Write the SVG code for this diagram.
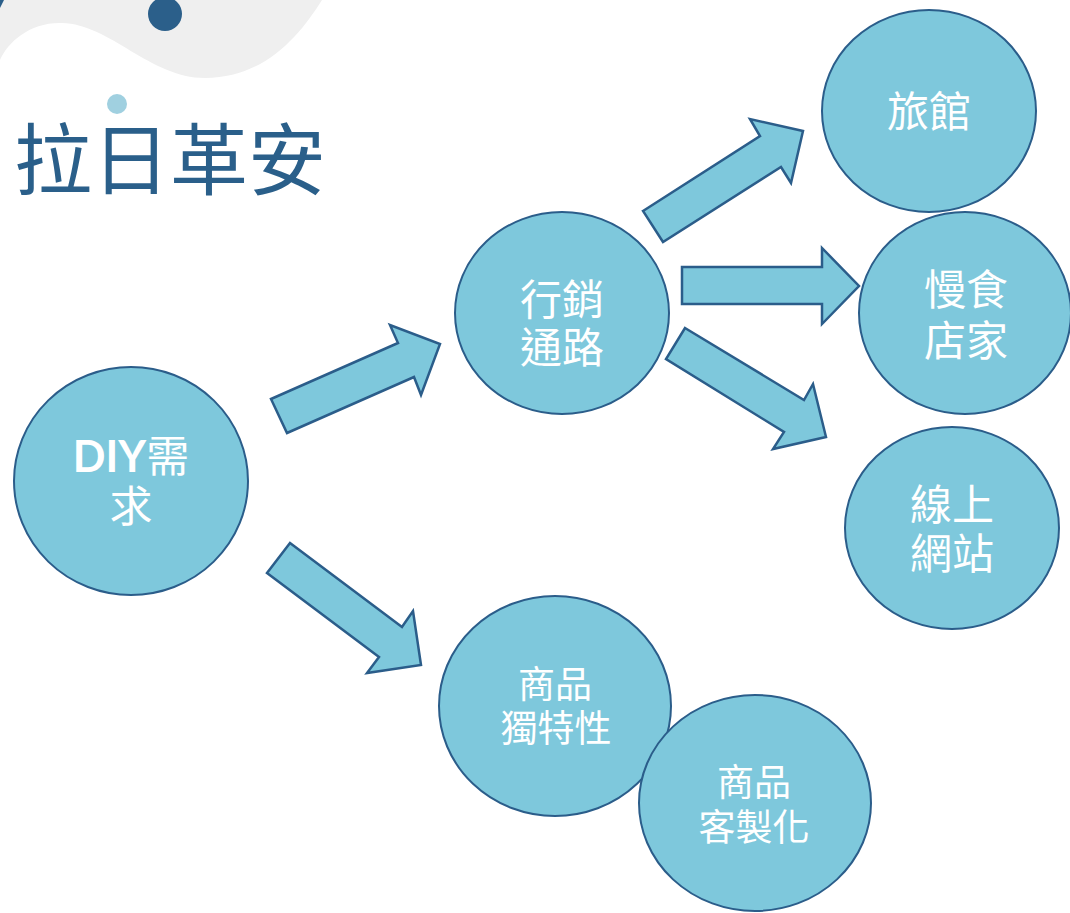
<svg xmlns="http://www.w3.org/2000/svg" width="1070" height="913" viewBox="0 0 1070 913">
<style>
.node{fill:#7ec8dc;stroke:#2b5d8a;stroke-width:2}
.arrow{fill:#7ec8dc;stroke:#2b5d8a;stroke-width:2.5;stroke-linejoin:miter}
.lbl{fill:#ffffff;font-family:"Noto Sans CJK TC","Noto Sans CJK SC",sans-serif;text-anchor:middle}
.title{fill:#2a5f8a;font-family:"Noto Sans CJK TC","Noto Sans CJK SC",sans-serif}
</style>
<rect width="1070" height="913" fill="#ffffff"/>
<g id="background">
<path d="M0,0 H322 C300,35 265,78 205,78 C150,78 110,24 62,23 C30,22 8,42 0,60 Z" fill="#efefef"/>
<path d="M0,0 H4 L0,8 Z" fill="#2b5f8a"/>
<circle cx="165" cy="14" r="17" fill="#2b5f8a"/>
<circle cx="117" cy="104" r="10" fill="#a0d0e0"/>
<text class="title" x="14" y="189" font-size="78">拉日革安</text>
</g>
<g id="connectors">
<polygon class="arrow" points="271,399 398,343 390,325 440,344 421,395 414,377 287,433"/>
<polygon class="arrow" points="643,211 760,136 750,119 803,131 791,183 781,167 663,242"/>
<polygon class="arrow" points="682,267 822,267 822,248 859,286 822,324 822,304 682,304"/>
<polygon class="arrow" points="685,328 804,400 813,384 826,437 773,449 784,432 666,359"/>
<polygon class="arrow" points="290,543 402,627 413,611 421,665 367,673 379,657 267,573"/>
</g>
<g id="node-diy">
<ellipse class="node" cx="131" cy="481" rx="117" ry="114"/>
<text class="lbl" x="131" y="472" font-size="43"><tspan font-family="Lato,'Noto Sans',sans-serif" font-weight="bold">DIY</tspan>需<tspan x="131" dy="50">求</tspan></text>
</g>
<g id="node-marketing">
<ellipse class="node" cx="562" cy="313" rx="107" ry="101"/>
<text class="lbl" x="562" y="315" font-size="42">行銷<tspan x="562" dy="48">通路</tspan></text>
</g>
<g id="node-hotel">
<ellipse class="node" cx="929" cy="111" rx="107" ry="101"/>
<text class="lbl" x="929" y="127" font-size="42">旅館</text>
</g>
<g id="node-slowfood">
<ellipse class="node" cx="965" cy="313" rx="106" ry="101"/>
<text class="lbl" x="966" y="305" font-size="42">慢食<tspan x="966" dy="51">店家</tspan></text>
</g>
<g id="node-online">
<ellipse class="node" cx="952" cy="528" rx="107" ry="101"/>
<text class="lbl" x="952" y="520" font-size="42">線上<tspan x="952" dy="49">網站</tspan></text>
</g>
<g id="node-unique">
<ellipse class="node" cx="555" cy="706" rx="116" ry="110"/>
<text class="lbl" x="555" y="698" font-size="37">商品<tspan x="556" dy="44">獨特性</tspan></text>
</g>
<g id="node-custom">
<ellipse class="node" cx="755" cy="803" rx="116" ry="108"/>
<text class="lbl" x="754" y="796" font-size="37">商品<tspan x="754" dy="45">客製化</tspan></text>
</g>
</svg>
